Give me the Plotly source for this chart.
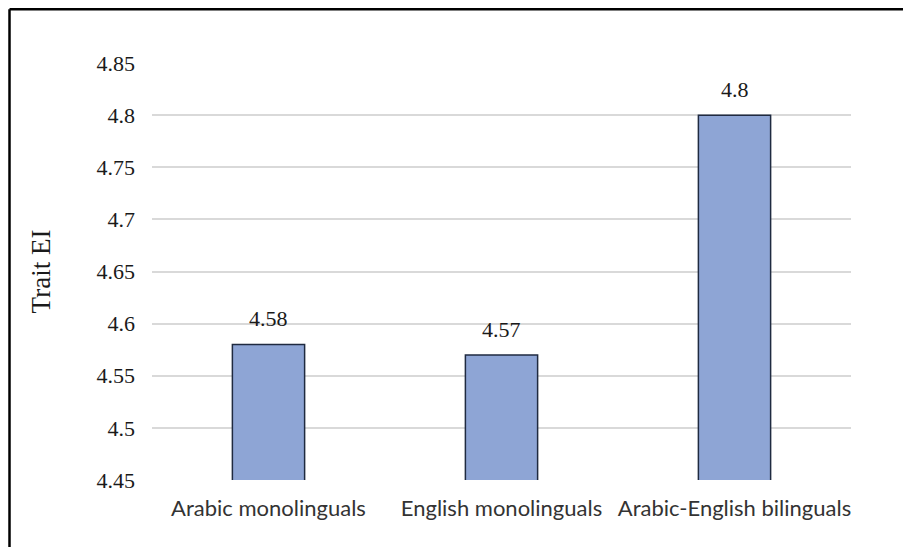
import plotly.graph_objects as go

categories = ["Arabic monolinguals", "English monolinguals", "Arabic-English bilinguals"]
values = [4.58, 4.57, 4.8]
value_labels = ["4.58", "4.57", "4.8"]
tick_vals = [4.45, 4.5, 4.55, 4.6, 4.65, 4.7, 4.75, 4.8, 4.85]
tick_text = ["4.45", "4.5", "4.55", "4.6", "4.65", "4.7", "4.75", "4.8", "4.85"]

OFF = 8  # page body margin
W, H = 911 - OFF, 547 - OFF
L, R, T, B = 152 - OFF, 60, 63 - OFF, 67
pw, ph = W - L - R, H - T - B

SERIF = "Liberation Serif, Times New Roman, serif"

def px_to_paper_x(px):
    return (px - OFF - L) / pw

def px_to_paper_y(py):
    return (H - B - (py - OFF)) / ph

fig = go.Figure()
fig.add_trace(go.Bar(
    x=categories, y=values,
    marker=dict(color="#8EA5D5", line=dict(color="#1F2A40", width=1.5)),
))

for c, v, t in zip(categories, values, value_labels):
    fig.add_annotation(x=c, y=v, text=t, showarrow=False, yanchor="bottom", yshift=11,
                       font=dict(family=SERIF, size=22, color="#1a1a1a"))

# outer frame (top and left edges visible)
x0 = px_to_paper_x(9.5)
y0 = px_to_paper_y(9.2)
fig.add_shape(type="line", xref="paper", yref="paper", x0=x0, y0=y0, x1=px_to_paper_x(920), y1=y0,
              line=dict(color="black", width=2.5))
fig.add_shape(type="line", xref="paper", yref="paper", x0=x0, y0=y0, x1=x0, y1=px_to_paper_y(560),
              line=dict(color="black", width=2.5))

fig.update_layout(
    width=W, height=H,
    margin=dict(l=L, r=R, t=T, b=B, autoexpand=False),
    paper_bgcolor="white", plot_bgcolor="white",
    bargap=0.69, showlegend=False,
    xaxis=dict(showgrid=False, showline=False, ticks="", ticklabelstandoff=13,
               tickfont=dict(family="Lato", size=22, color="#333333")),
    yaxis=dict(range=[4.45, 4.85], tickvals=tick_vals, ticktext=tick_text,
               showgrid=True, gridcolor="#D9D9D9", gridwidth=1.5, zeroline=False,
               showline=False, ticks="", ticklabelstandoff=16,
               tickfont=dict(family=SERIF, size=22, color="#1a1a1a"),
               title=dict(text="Trait EI", standoff=38,
                          font=dict(family=SERIF, size=27, color="#1a1a1a"))),
)

fig.write_html("out.html")
